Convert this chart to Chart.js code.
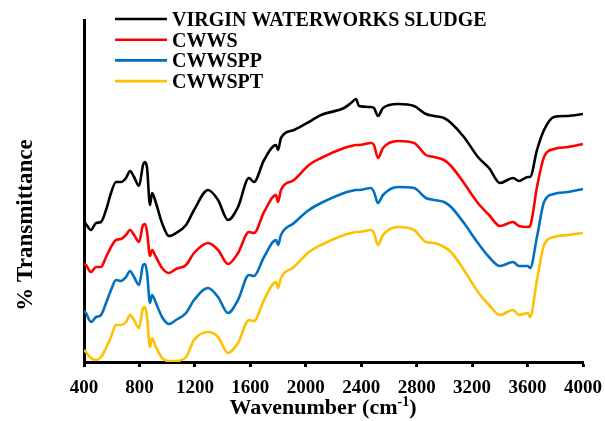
<html lang="en">
<head>
<meta charset="utf-8">
<script src="https://cdn.jsdelivr.net/npm/chart.js"></script>
<style>
    html, body { margin: 0; padding: 0; background: white; }
    #wrap { width: 605px; height: 421px; }
</style>
</head>
<body>
<div id="wrap"><canvas id="chart" width="605" height="421"></canvas></div>
<script>

    // wavenumbers (cm-1) shared by all four spectra
    const wavenumbers = [400,414,450,487,523,559,595,631,667,703,732,761,797,826,840,855,876,891,919,963,
        1013,1064,1136,1194,1295,1367,1439,1511,1590,1626,1699,1785,1800,1821,1915,2023,2110,2276,2326,2362,
        2384,2471,2492,2521,2557,2665,2781,2867,2925,2997,3048,3141,3242,3322,3401,3495,3538,3603,3618,3668,
        3719,3791,3892,4000];

    // transmittance (arbitrary, offset)
    const virgin = [140,138,132,139,140,152,169,180,180,184,191,185,176,197,200,194,157,169,159,139,
        126,129,137,152,172,162,142,155,184,180,202,217,212,224,232,240,247,254,259,263,
        256,255,254,246,254,258,256,248,246,244,239,225,205,194,179,184,181,185,185,212,
        232,245,246,248];
    const cwws = [98,97,90,95,95,105,115,122,123,127,132,127,120,137,138,130,106,112,105,94,
        89,93,97,109,119,112,98,109,130,129,150,167,160,172,182,197,204,214,216,217,
        217,219,217,204,214,221,219,207,205,202,196,179,159,147,136,140,136,135,136,175,
        205,213,215,218];
    const cwwspp = [51,49,40,45,47,59,72,82,81,85,91,85,77,97,98,89,59,67,59,45,
        38,42,49,62,74,65,49,62,87,86,105,122,117,127,139,152,159,169,171,172,
        172,174,170,159,167,175,174,164,162,160,155,139,119,105,96,100,96,96,94,125,
        160,168,170,173];
    const cwwspt = [12,10,4,2,5,14,25,37,37,40,47,42,34,54,55,45,15,24,15,4,
        1,1,5,22,30,25,9,19,42,41,62,80,74,84,95,110,117,127,129,130,
        130,132,129,117,127,135,132,120,119,115,110,92,70,57,47,52,47,49,45,82,
        117,125,127,129];

    const seriesNames = ["VIRGIN WATERWORKS SLUDGE", "CWWS", "CWWSPP", "CWWSPT"];
    const seriesColors = ["#000000", "#FF0000", "#0070C0", "#FFC000"];
    const seriesValues = [virgin, cwws, cwwspp, cwwspt];

    const serif = "'Liberation Serif', 'Times New Roman', serif";

    function toPoints(values) {
        return values.map((v, i) => ({x: wavenumbers[i], y: v}));
    }

    const datasets = [];
    for (let j = 0; j < seriesNames.length; j++) {
        datasets.push({
            label: seriesNames[j],
            data: toPoints(seriesValues[j]),
            borderColor: seriesColors[j],
            borderWidth: 2.6,
            pointRadius: 0,
            cubicInterpolationMode: 'monotone',
            fill: false
        });
    }

    // legend + axis titles drawn by hand (legend sits inside the plot)
    const textPlugin = {
        id: 'textPlugin',
        afterDraw(chart) {
            const ctx = chart.ctx;
            ctx.save();
            ctx.fillStyle = 'black';

            // legend
            ctx.font = "bold 20px " + serif;
            ctx.textBaseline = 'alphabetic';
            chart.data.datasets.forEach((ds, i) => {
                const y = 19 + i * 20.7;
                ctx.strokeStyle = ds.borderColor;
                ctx.lineWidth = 2.6;
                ctx.beginPath();
                ctx.moveTo(115, y);
                ctx.lineTo(167, y);
                ctx.stroke();
                ctx.fillText(ds.label, 172, y + 7);
            });

            // x title with superscript
            const main = "Wavenumber (cm";
            const sup = "-1";
            const close = ")";
            ctx.font = "bold 22px " + serif;
            const w1 = ctx.measureText(main).width;
            const w3 = ctx.measureText(close).width;
            ctx.font = "bold 14px " + serif;
            const w2 = ctx.measureText(sup).width;
            let x = 323 - (w1 + w2 + w3) / 2;
            const base = 414;
            ctx.font = "bold 22px " + serif;
            ctx.fillText(main, x, base);
            x += w1;
            ctx.font = "bold 14px " + serif;
            ctx.fillText(sup, x, base - 8);
            x += w2;
            ctx.font = "bold 22px " + serif;
            ctx.fillText(close, x, base);

            // y title
            ctx.translate(32, 225);
            ctx.rotate(-Math.PI / 2);
            ctx.font = "bold 23px " + serif;
            ctx.textAlign = 'center';
            ctx.fillText("% Transmittance", 0, 0);
            ctx.restore();
        }
    };

    const ctx = document.getElementById('chart');

    const chart = new Chart(ctx, {
        type: 'line',
        data: { datasets: datasets },
        options: {
            responsive: false,
            animation: false,
            layout: { padding: { top: 20, right: 22, left: 0, bottom: 0 } },
            plugins: {
                legend: { display: false },
                tooltip: { enabled: false }
            },
            scales: {
                x: {
                    type: 'linear',
                    min: 400,
                    max: 4000,
                    afterFit: (scale) => {
                        scale.height = 59;
                        scale.paddingLeft = 0;
                        scale.paddingRight = 0;
                    },
                    ticks: {
                        stepSize: 400,
                        color: 'black',
                        padding: 10,
                        maxRotation: 0,
                        autoSkip: false,
                        callback: (v) => String(v),
                        font: { family: serif, size: 19, weight: 'bold' }
                    },
                    grid: {
                        display: true,
                        drawOnChartArea: false,
                        drawTicks: true,
                        tickLength: 5,
                        tickWidth: 3,
                        tickColor: 'black'
                    },
                    border: { display: true, color: 'black', width: 3 }
                },
                y: {
                    type: 'linear',
                    min: 0,
                    max: 342,
                    afterFit: (scale) => { scale.width = 84; },
                    ticks: { display: false },
                    grid: { display: false },
                    border: { display: true, color: 'black', width: 3 }
                }
            }
        },
        plugins: [textPlugin]
    });

</script>
</body>
</html>
